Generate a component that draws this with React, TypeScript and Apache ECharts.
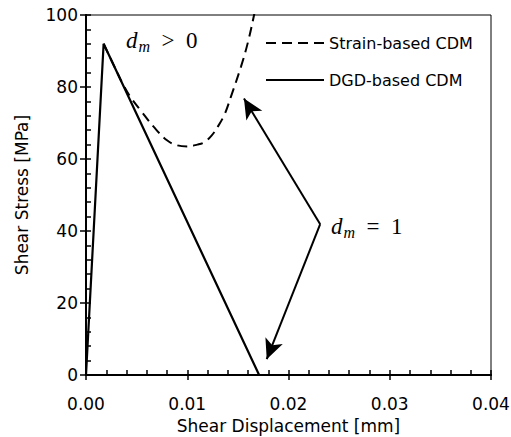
import React, { useEffect, useRef } from "react";
import * as echarts from "echarts";

const dgdX = [0, 0.00174, 0.0171];
const dgdY = [0, 92, 0];

const strainX = [0.00174, 0.003, 0.0037, 0.0044, 0.0054, 0.0067, 0.008, 0.009, 0.01, 0.011, 0.0117, 0.0124, 0.013, 0.0137, 0.0143, 0.0153, 0.016, 0.0166, 0.0169];
const strainY = [92, 84.5, 80.5, 77.2, 73.5, 68.9, 65.2, 63.8, 63.5, 64.0, 64.7, 66.5, 68.9, 72.5, 77.2, 85.6, 92.5, 100, 104];

const arrowFrom = [0.02313, 41.9];
const arrowTips = [
  [0.0156, 76.8],
  [0.01785, 4.4],
];

const xTicks = { min: 0, max: 0.04, interval: 0.01 };
const yTicks = { min: 0, max: 100, interval: 20 };

const FONT = "DejaVu Sans";
const MATH = "Liberation Serif";

export default function App() {
  const ref = useRef<HTMLDivElement>(null);
  useEffect(() => {
    if (!ref.current) return;
    const chart = echarts.init(ref.current, undefined, { renderer: "svg" });
    const zip = (xs: number[], ys: number[]) => xs.map((x, i) => [x, ys[i]]);
    const mathRich = {
      d: { fontFamily: MATH, fontStyle: "italic", fontSize: 23, color: "#000" },
      m: { fontFamily: MATH, fontStyle: "italic", fontSize: 16, color: "#000", padding: [11, 0, 0, 1] },
      o: { fontFamily: MATH, fontSize: 23, color: "#000" },
    };
    const gridPos = { left: 86, right: 20, top: 15, bottom: 62, containLabel: false, outerBoundsMode: "none" };
    const tickLine = { color: "#000", width: 1.5 };
    const blackLine = { show: true, lineStyle: { color: "#000", width: 2 } };
    chart.setOption({
      animation: false,
      backgroundColor: "#fff",
      grid: [
        { ...gridPos, show: true, borderColor: "#000", borderWidth: 1, backgroundColor: "transparent" },
        { ...gridPos, show: false },
      ],
      legend: {
        orient: "vertical",
        left: 260,
        top: 30,
        itemWidth: 58,
        itemHeight: 2,
        itemGap: 21,
        itemStyle: { opacity: 0 },
        lineStyle: { width: 2 },
        textStyle: { fontFamily: FONT, fontSize: 16, color: "#000" },
        data: ["Strain-based CDM", "DGD-based CDM"],
      },
      xAxis: [
        {
          type: "value",
          gridIndex: 0,
          min: xTicks.min,
          max: xTicks.max,
          interval: xTicks.interval,
          name: "Shear Displacement [mm]",
          nameLocation: "middle",
          nameGap: 42,
          nameTextStyle: { fontFamily: FONT, fontSize: 17, color: "#000" },
          axisLine: blackLine,
          axisTick: { show: true, inside: true, length: 5, lineStyle: tickLine },
          minorTick: { show: true, splitNumber: 5, length: 5, lineStyle: tickLine },
          axisLabel: { fontFamily: FONT, fontSize: 17, color: "#000", margin: 20, formatter: (v: number) => v.toFixed(2) },
          splitLine: { show: false },
        },
        {
          type: "value",
          gridIndex: 1,
          min: xTicks.min,
          max: xTicks.max,
          interval: xTicks.interval,
          axisLine: blackLine,
          axisTick: { show: true, inside: false, length: 5, lineStyle: tickLine },
          axisLabel: { show: false },
          splitLine: { show: false },
        },
      ],
      yAxis: [
        {
          type: "value",
          gridIndex: 0,
          min: yTicks.min,
          max: yTicks.max,
          interval: yTicks.interval,
          name: "Shear Stress [MPa]",
          nameLocation: "middle",
          nameGap: 56,
          nameTextStyle: { fontFamily: FONT, fontSize: 17, color: "#000" },
          axisLine: blackLine,
          axisTick: { show: true, inside: true, length: 5, lineStyle: tickLine },
          minorTick: { show: true, splitNumber: 5, length: 5, lineStyle: tickLine },
          axisLabel: { fontFamily: FONT, fontSize: 17, color: "#000", margin: 8 },
          splitLine: { show: false },
        },
        {
          type: "value",
          gridIndex: 1,
          min: yTicks.min,
          max: yTicks.max,
          interval: yTicks.interval,
          axisLine: blackLine,
          axisTick: { show: true, inside: false, length: 6, lineStyle: tickLine },
          axisLabel: { show: false },
          splitLine: { show: false },
        },
      ],
      series: [
        {
          name: "Strain-based CDM",
          type: "line",
          data: zip(strainX, strainY),
          smooth: 0.4,
          symbol: "none",
          clip: true,
          lineStyle: { color: "#000", width: 2, type: [10, 6] },
          itemStyle: { color: "#000" },
        },
        {
          name: "DGD-based CDM",
          type: "line",
          data: zip(dgdX, dgdY),
          symbol: "none",
          lineStyle: { color: "#000", width: 2.2 },
          itemStyle: { color: "#000" },
          markLine: {
            silent: true,
            symbol: ["none", "arrow"],
            symbolSize: [14, 20],
            label: { show: false },
            lineStyle: { color: "#000", width: 2, type: "solid" },
            data: arrowTips.map((t) => [{ coord: arrowFrom }, { coord: t }]),
          },
        },
      ],
      graphic: [
        {
          type: "text",
          left: 126,
          top: 29,
          style: { text: "{d|d}{m|m}{o|  >  0}", rich: mathRich },
        },
        {
          type: "text",
          left: 331,
          top: 215,
          style: { text: "{d|d}{m|m}{o|  =  1}", rich: mathRich },
        },
      ],
    });
    return () => chart.dispose();
  }, []);
  return <div ref={ref} style={{ position: "fixed", left: 0, top: 0, width: 511, height: 437 }} />;
}
